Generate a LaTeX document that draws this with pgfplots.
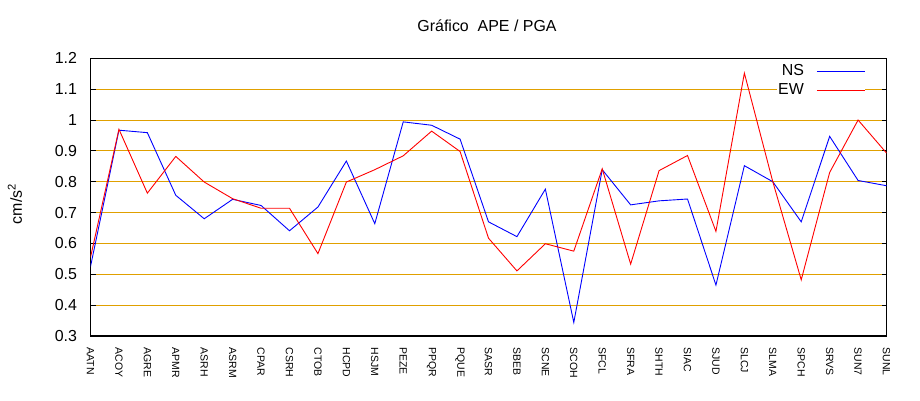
\documentclass[border=0pt]{standalone}
\usepackage{pgfplots}
\pgfplotsset{compat=1.18}
\usepackage{fontspec}
\setmainfont{Liberation Sans}
\definecolor{gridorange}{RGB}{224,160,0}

\pgfplotstableread{
i NS EW
0 0.525 0.555
1 0.967 0.970
2 0.959 0.763
3 0.756 0.882
4 0.680 0.799
5 0.743 0.745
6 0.723 0.714
7 0.641 0.714
8 0.718 0.567
9 0.867 0.799
10 0.664 0.839
11 0.994 0.884
12 0.983 0.964
13 0.938 0.898
14 0.670 0.617
15 0.622 0.511
16 0.776 0.599
17 0.344 0.575
18 0.839 0.842
19 0.725 0.533
20 0.738 0.836
21 0.744 0.885
22 0.465 0.639
23 0.852 1.152
24 0.800 0.800
25 0.670 0.482
26 0.947 0.830
27 0.804 1.000
28 0.787 0.893
}\datatable

\begin{document}
\begin{tikzpicture}[x=1bp,y=1bp]
\useasboundingbox (0,0) rectangle (920,400);
\begin{axis}[
  at={(90.5bp,64bp)}, anchor=south west,
  scale only axis, width=796bp, height=277.7bp,
  xmin=0, xmax=28, ymin=0.3, ymax=1.2,
  xtick={0,...,28},
  xticklabels={AATN,ACOY,AGRE,APMR,ASRH,ASRM,CPAR,CSRH,CTOB,HCPD,HSJM,PEZE,PPQR,PQUE,SASR,SBEB,SCNE,SCOH,SFCL,SFRA,SHTH,SIAC,SJUD,SLCJ,SLMA,SPCH,SRVS,SUN7,SUNL},
  x tick label style={rotate=-90, anchor=west, font=\fontsize{10.5}{12}\selectfont},
  xticklabel shift=8bp,
  major x tick style={draw=none},
  ytick={0.3,0.4,0.5,0.6,0.7,0.8,0.9,1.0,1.1,1.2},
  yticklabels={0.3,0.4,0.5,0.6,0.7,0.8,0.9,1,1.1,1.2},
  y tick label style={font=\fontsize{16}{19}\selectfont},
  yticklabel shift=10bp,
  /pgf/number format/assume math mode=true,
  ytick pos=both,
  tick align=inside,
  major tick length=5bp,
  major tick style={black, line width=0.8bp},
  ymajorgrids,
  major grid style={gridorange, line width=1bp},
  axis line style={black, line width=1.3bp},
  legend plot pos=right,
  legend cell align=right,
  legend image code/.code={\draw[#1] (0bp,0bp) -- (48bp,0bp);},
  legend style={at={(rel axis cs:0.9736,0.984)}, anchor=north east, draw=none, fill=white,
    font=\fontsize{16}{19}\selectfont, inner sep=0bp, row sep=1bp, column sep=11bp,
    nodes={inner sep=1.5bp, text height=11.5bp, text depth=3.5bp}},
]
\addplot[blue, line width=0.9bp] table[x=i, y=NS] {\datatable};
\addlegendentry{NS}
\addplot[red, line width=0.9bp] table[x=i, y=EW] {\datatable};
\addlegendentry{EW}
\end{axis}
\node[font=\fontsize{16}{19}\selectfont] at (487,374) {Gráfico\ \ APE / PGA};
\node[rotate=90, font=\fontsize{16}{19}\selectfont] at (15,196) {cm/s\textsuperscript{2}};
\end{tikzpicture}
\end{document}
